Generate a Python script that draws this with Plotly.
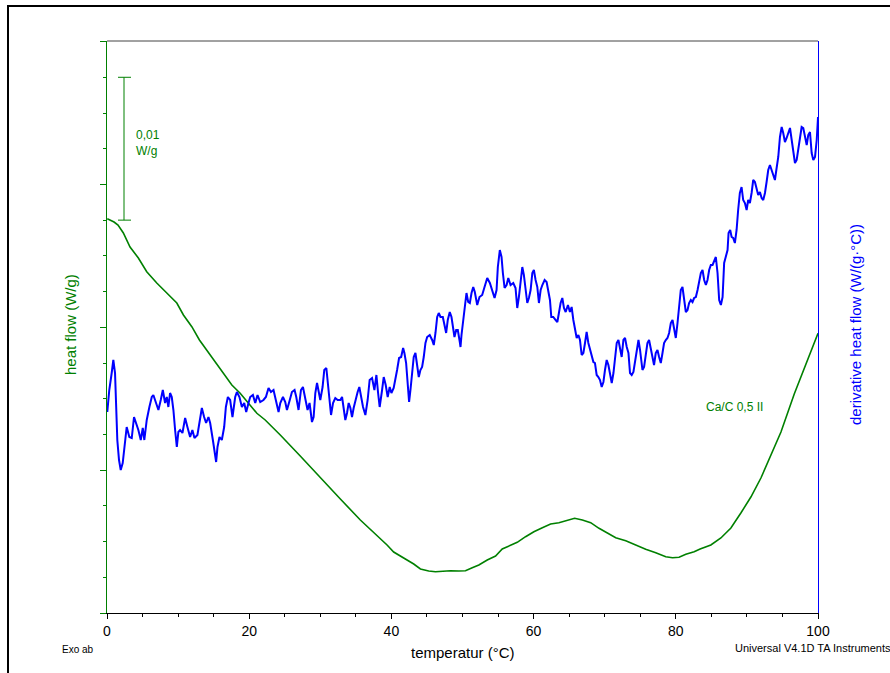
import plotly.graph_objects as go

# ---- heat flow (green), W/g ----
hf_temp = [0.04, 0.99, 1.55, 2.30, 3.24, 4.41, 5.59, 7.00, 8.41, 9.82, 10.75, 11.93, 13.00, 14.04,
           15.21, 16.38, 17.56, 18.73, 19.90, 21.08, 22.25, 23.42, 24.37, 27.18, 30.00, 32.82, 35.63,
           38.45, 39.39, 40.32, 41.27, 42.21, 43.14, 44.08, 45.25, 46.20, 47.14, 48.31, 49.48, 50.42,
           51.37, 52.30, 53.48, 54.65, 55.59, 56.52, 57.70, 58.87, 60.04, 61.23, 62.39, 63.56, 64.75,
           65.77, 66.86, 68.03, 69.20, 70.38, 71.55, 72.96, 74.37, 75.77, 77.18, 78.59, 79.54, 80.46,
           81.41, 82.58, 83.42, 84.93, 86.34, 87.75, 89.15, 90.56, 91.97, 93.38, 94.79, 96.66, 98.31, 100.0]
hf_value = [0.02760, 0.02737, 0.02716, 0.02660, 0.02562, 0.02485, 0.02389, 0.02310, 0.02240, 0.02170,
            0.02086, 0.02004, 0.01911, 0.01841, 0.01759, 0.01678, 0.01596, 0.01538, 0.01468, 0.01398,
            0.01351, 0.01293, 0.01246, 0.01099, 0.00945, 0.00798, 0.00651, 0.00525, 0.00476, 0.00427,
            0.00399, 0.00371, 0.00343, 0.00308, 0.00294, 0.00289, 0.00294, 0.00296, 0.00294, 0.00296,
            0.00317, 0.00336, 0.00371, 0.00399, 0.00448, 0.00469, 0.00495, 0.00534, 0.00569, 0.00597,
            0.00623, 0.00632, 0.00646, 0.00663, 0.00651, 0.00632, 0.00593, 0.00558, 0.00527, 0.00506,
            0.00476, 0.00446, 0.00422, 0.00394, 0.00387, 0.00390, 0.00411, 0.00429, 0.00448, 0.00476,
            0.00525, 0.00595, 0.00700, 0.00812, 0.00945, 0.01106, 0.01267, 0.01533, 0.01736, 0.01958]

# ---- derivative heat flow (blue), W/(g·°C) ----
dhf_temp = [0.04, 0.32, 0.66, 0.89, 1.13, 1.27, 1.45, 1.69, 1.93, 2.21, 2.44, 2.77, 3.14, 3.48, 3.80,
            4.08, 4.41, 4.75, 5.03, 5.25, 5.59, 5.96, 6.30, 6.52, 6.90, 7.23, 7.56, 7.85, 8.17, 8.41,
            8.63, 8.87, 9.11, 9.34, 9.58, 9.82, 10.04, 10.28, 10.61, 10.99, 11.31, 11.69, 12.01, 12.30,
            12.72, 13.10, 13.34, 13.66, 13.94, 14.27, 14.51, 14.89, 15.21, 15.35, 15.54, 15.82, 16.15,
            16.48, 16.72, 17.00, 17.32, 17.65, 18.03, 18.27, 18.63, 18.97, 19.30, 19.58, 19.90, 20.14,
            20.52, 20.85, 21.17, 21.55, 22.01, 22.35, 22.72, 23.06, 23.42, 23.80, 24.13, 24.37,
            24.75, 25.07, 25.31, 25.63, 26.01, 26.38, 26.62, 26.94, 27.28, 27.56, 27.89, 28.21, 28.49,
            28.83, 29.06, 29.30, 29.54, 29.76, 30.00, 30.32, 30.56, 30.85, 31.03, 31.31, 31.51, 31.79,
            32.11, 32.44, 32.82, 33.06, 33.28, 33.52, 33.76, 33.99, 34.23, 34.46, 34.69, 35.03, 35.25,
            35.49, 35.73, 36.01, 36.34, 36.66, 36.94, 37.28, 37.61, 37.89, 38.13, 38.35, 38.69, 38.92,
            39.20, 39.48, 39.76, 40.00, 40.32, 40.56, 40.80, 41.08, 41.37, 41.65, 41.83, 42.07, 42.30,
            42.49, 42.68, 42.92, 43.14, 43.38, 43.62, 43.85, 44.08, 44.32, 44.55, 44.79, 45.03, 45.39,
            45.73, 45.96, 46.20, 46.44, 46.66, 46.90, 47.23, 47.46, 47.70, 47.93, 48.21, 48.45, 48.69,
            48.87, 49.11, 49.34, 49.62,
            49.72, 49.86, 50.10, 50.32, 50.56, 50.80, 51.03, 51.27, 51.51, 51.73, 52.07, 52.39, 52.77,
            53.10, 53.48, 53.85, 54.18, 54.51, 54.79, 54.97, 55.25, 55.49, 55.68, 55.92, 56.20, 56.44,
            56.76, 57.14, 57.46, 57.70, 57.93, 58.17, 58.41, 58.63, 58.87, 59.11, 59.34, 59.58, 59.82,
            60.04, 60.28, 60.52, 60.75, 60.99, 61.23, 61.55, 61.83, 62.07, 62.30, 62.49, 62.77, 63.10,
            63.34, 63.56, 63.80, 64.04, 64.27, 64.51, 64.83, 65.11, 65.35, 65.59, 65.82, 66.06, 66.30,
            66.52, 66.76, 67.00, 67.23, 67.46, 67.70, 67.93, 68.17, 68.41, 68.63, 68.87, 69.11, 69.34,
            69.58, 69.82, 70.04, 70.28, 70.52, 70.75, 70.99, 71.23, 71.45, 71.69, 71.93, 72.15, 72.39,
            72.63, 72.86, 73.10, 73.34, 73.56, 73.80, 74.04, 74.27, 74.51, 74.75, 74.97,
            75.31, 75.54, 75.77, 76.01, 76.24, 76.48, 76.72, 76.94, 77.18, 77.42, 77.65, 77.89, 78.13,
            78.35, 78.59, 78.83, 79.06, 79.30, 79.54, 79.76, 80.00, 80.24, 80.46, 80.70, 80.94, 81.17,
            81.41, 81.65, 81.87, 82.11, 82.35, 82.58, 82.82, 83.06, 83.28, 83.52, 83.76, 83.99, 84.23,
            84.46, 84.69, 84.93, 85.17, 85.39, 85.63, 85.87, 86.10, 86.34, 86.58, 86.80, 87.04, 87.28,
            87.42, 87.65, 87.85, 88.07, 88.31, 88.55, 88.77, 89.01, 89.25, 89.48, 89.72, 89.96, 90.18,
            90.42, 90.66, 90.89, 91.13, 91.37, 91.59, 91.83, 92.07, 92.30, 92.54, 92.77, 93.00, 93.24,
            93.48, 93.70, 93.94, 94.18, 94.41, 94.65, 94.89, 95.11, 95.35, 95.59, 95.82, 96.06, 96.30,
            96.52, 96.76, 97.00, 97.23, 97.46, 97.70, 97.93, 98.17, 98.41, 98.63, 98.87, 99.11, 99.34,
            99.58, 99.82, 99.98, 100.0]
dhf_value = [0.0201, 0.0223, 0.0240, 0.0253, 0.0240, 0.0206, 0.0173, 0.0153, 0.0143, 0.0150, 0.0166,
             0.0186, 0.0176, 0.0175, 0.0196, 0.0190, 0.0183, 0.0173, 0.0185, 0.0173, 0.0193, 0.0206,
             0.0216, 0.0218, 0.0210, 0.0203, 0.0213, 0.0223, 0.0210, 0.0216, 0.0206, 0.0220, 0.0216,
             0.0203, 0.0183, 0.0166, 0.0181, 0.0183, 0.0180, 0.0195, 0.0186, 0.0176, 0.0183, 0.0175,
             0.0178, 0.0193, 0.0205, 0.0196, 0.0190, 0.0196, 0.0190, 0.0173, 0.0160, 0.0151, 0.0166,
             0.0176, 0.0173, 0.0186, 0.0206, 0.0216, 0.0213, 0.0196, 0.0216, 0.0221, 0.0216, 0.0206,
             0.0210, 0.0201, 0.0210, 0.0216, 0.0218, 0.0210, 0.0218, 0.0211, 0.0213, 0.0216, 0.0225,
             0.0221, 0.0223, 0.0211, 0.0201, 0.0210,
             0.0216, 0.0211, 0.0203, 0.0211, 0.0221, 0.0223, 0.0216, 0.0203, 0.0223, 0.0226, 0.0213,
             0.0203, 0.0210, 0.0191, 0.0196, 0.0220, 0.0230, 0.0223, 0.0213, 0.0226, 0.0243, 0.0245,
             0.0230, 0.0210, 0.0198, 0.0210, 0.0215, 0.0213, 0.0213, 0.0216, 0.0206, 0.0193, 0.0200,
             0.0210, 0.0205, 0.0196, 0.0205, 0.0216, 0.0221, 0.0226, 0.0216, 0.0206, 0.0198, 0.0213,
             0.0233, 0.0235, 0.0223, 0.0238, 0.0220, 0.0206, 0.0223, 0.0236, 0.0228, 0.0216, 0.0226,
             0.0220, 0.0225, 0.0236, 0.0243, 0.0255, 0.0256, 0.0265, 0.0260, 0.0250, 0.0230, 0.0211,
             0.0223, 0.0243, 0.0256, 0.0260, 0.0246, 0.0236, 0.0243, 0.0246, 0.0256, 0.0270, 0.0276,
             0.0278, 0.0273, 0.0268, 0.0280, 0.0296, 0.0300, 0.0296, 0.0296, 0.0286, 0.0280, 0.0293,
             0.0301, 0.0296, 0.0286, 0.0276, 0.0283, 0.0283, 0.0271,
             0.0266, 0.0278, 0.0293, 0.0308, 0.0320, 0.0311, 0.0310, 0.0320, 0.0326, 0.0321, 0.0308,
             0.0316, 0.0318, 0.0326, 0.0335, 0.0330, 0.0323, 0.0315, 0.0323, 0.0346, 0.0363, 0.0356,
             0.0340, 0.0325, 0.0328, 0.0335, 0.0328, 0.0330, 0.0325, 0.0305, 0.0316, 0.0333, 0.0346,
             0.0338, 0.0323, 0.0310, 0.0315, 0.0323, 0.0340, 0.0343, 0.0333, 0.0326, 0.0310, 0.0323,
             0.0328, 0.0333, 0.0331, 0.0323, 0.0313, 0.0296, 0.0296, 0.0293, 0.0291, 0.0300, 0.0310,
             0.0315, 0.0305, 0.0301, 0.0308, 0.0301, 0.0306, 0.0293, 0.0283, 0.0275, 0.0278, 0.0273,
             0.0258, 0.0260, 0.0270, 0.0281, 0.0270, 0.0263, 0.0258, 0.0251, 0.0250, 0.0238, 0.0236,
             0.0233, 0.0226, 0.0231, 0.0243, 0.0253, 0.0248, 0.0240, 0.0230, 0.0240, 0.0253, 0.0270,
             0.0273, 0.0263, 0.0256, 0.0273, 0.0275, 0.0266, 0.0260, 0.0240, 0.0238, 0.0241, 0.0253,
             0.0266, 0.0273, 0.0263,
             0.0243, 0.0246, 0.0260, 0.0270, 0.0273, 0.0263, 0.0255, 0.0248, 0.0260, 0.0263, 0.0256,
             0.0250, 0.0260, 0.0270, 0.0273, 0.0275, 0.0280, 0.0290, 0.0293, 0.0283, 0.0275, 0.0290,
             0.0310, 0.0323, 0.0326, 0.0313, 0.0301, 0.0303, 0.0310, 0.0313, 0.0311, 0.0315, 0.0316,
             0.0323, 0.0333, 0.0340, 0.0343, 0.0333, 0.0328, 0.0333, 0.0343, 0.0348, 0.0348, 0.0353,
             0.0356, 0.0340, 0.0313, 0.0308, 0.0316, 0.0350, 0.0356, 0.0363, 0.0380, 0.0383, 0.0376,
             0.0375, 0.0370, 0.0383, 0.0403, 0.0420, 0.0426, 0.0413, 0.0410, 0.0403, 0.0413, 0.0410,
             0.0420, 0.0433, 0.0431, 0.0423, 0.0418, 0.0421, 0.0415, 0.0413, 0.0420, 0.0431, 0.0443,
             0.0448, 0.0443, 0.0440, 0.0433, 0.0445, 0.0456, 0.0476, 0.0486, 0.0480, 0.0471, 0.0475,
             0.0481, 0.0485, 0.0473, 0.0460, 0.0450, 0.0453, 0.0463, 0.0476, 0.0486, 0.0485, 0.0476,
             0.0468, 0.0478, 0.0481, 0.0460, 0.0453, 0.0456, 0.0473, 0.0493, 0.0496]

x_ticks = [0, 20, 40, 60, 80, 100]

GREEN = "#008000"
BLUE = "#0000ff"
FONT = "Liberation Sans"

fig = go.Figure()
fig.add_trace(go.Scatter(x=hf_temp, y=hf_value, mode="lines",
                         line=dict(color=GREEN, width=1.6), yaxis="y", showlegend=False))
fig.add_trace(go.Scatter(x=dhf_temp, y=dhf_value, mode="lines",
                         line=dict(color=BLUE, width=2), yaxis="y2", showlegend=False))

L, R, T, B = 107, 72, 41, 60
W, H = 890, 673
pw, ph = W - L - R, H - T - B


def px(xp):
    return (xp - L) / pw


def py(yp):
    return (H - B - yp) / ph


fig.update_layout(
    width=W, height=H,
    margin=dict(l=L, r=R, t=T, b=B, autoexpand=False),
    paper_bgcolor="white", plot_bgcolor="white",
    font=dict(family=FONT, color="black"),
    xaxis=dict(range=[0, 100], tickvals=x_ticks, ticktext=[str(v) for v in x_ticks],
               showgrid=False, zeroline=False, showline=True, linecolor="black", linewidth=1,
               ticks="outside", ticklen=5, tickcolor="black", tickfont=dict(size=14, family=FONT),
               minor=dict(dtick=5, ticks="outside", ticklen=3, tickcolor="black", showgrid=False)),
    yaxis=dict(range=[0, 0.04004], showgrid=False, zeroline=False, showline=True,
               linecolor=GREEN, linewidth=1, ticks="outside", ticklen=6, tickcolor=GREEN,
               tick0=0, dtick=0.01, showticklabels=False,
               minor=dict(dtick=0.0025, ticks="outside", ticklen=3, tickcolor=GREEN, showgrid=False)),
    yaxis2=dict(range=[0, 0.0572], overlaying="y", side="right", showgrid=False, zeroline=False,
                showline=True, linecolor=BLUE, linewidth=1, ticks="", showticklabels=False),
)

# outer frame and top border
fig.add_shape(type="rect", xref="paper", yref="paper", x0=px(8), x1=px(900), y0=py(6), y1=py(690),
              line=dict(color="black", width=2), layer="below")
fig.add_shape(type="line", xref="paper", yref="paper", x0=0, x1=1, y0=1, y1=1,
              line=dict(color="#444444", width=1))

# scale bar (0,01 W/g)
sb_top, sb_bot = 0.0375, 0.0275
fig.add_shape(type="line", xref="paper", yref="y", x0=px(124), x1=px(124), y0=sb_bot, y1=sb_top,
              line=dict(color=GREEN, width=1))
for yv in (sb_bot, sb_top):
    fig.add_shape(type="line", xref="paper", yref="y", x0=px(118), x1=px(131), y0=yv, y1=yv,
                  line=dict(color=GREEN, width=1))

ann = [
    dict(text="0,01<br>W/g", x=px(134), y=py(143), xanchor="left", yanchor="middle", align="left",
         font=dict(size=12, color=GREEN)),
    dict(text="heat flow (W/g)", x=px(70), y=py(325), textangle=-90, xanchor="center", yanchor="middle",
         font=dict(size=15, color=GREEN)),
    dict(text="derivative heat flow (W/(g·°C))", x=px(855), y=py(325), textangle=-90,
         xanchor="center", yanchor="middle", font=dict(size=15, color=BLUE)),
    dict(text="temperatur (°C)", x=px(463), y=py(652), xanchor="center", yanchor="middle",
         font=dict(size=15, color="black")),
    dict(text="Exo ab", x=px(60), y=py(649), xanchor="left", yanchor="middle",
         font=dict(size=10, color="black")),
    dict(text="Universal V4.1D TA Instruments", x=px(733), y=py(648), xanchor="left", yanchor="middle",
         font=dict(size=11, color="black")),
    dict(text="Ca/C 0,5 II", x=px(704), y=py(407), xanchor="left", yanchor="middle",
         font=dict(size=12, color=GREEN)),
]
for a in ann:
    a.update(xref="paper", yref="paper", showarrow=False)
    a["font"].setdefault("family", FONT)
    fig.add_annotation(**a)

fig.write_html("out.html")
